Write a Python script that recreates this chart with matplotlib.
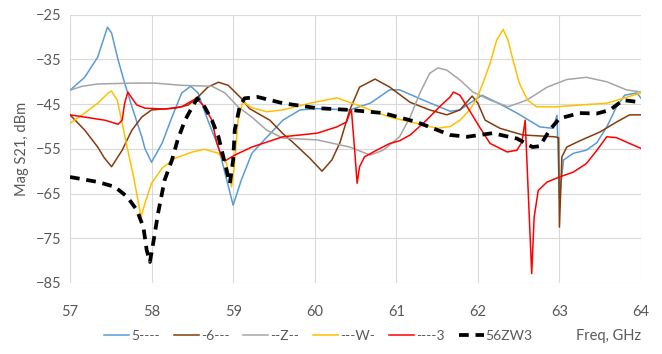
import matplotlib
matplotlib.use("Agg")
import matplotlib.pyplot as plt

plt.rcParams['font.family'] = ['Lato', 'DejaVu Sans']

# series data: frequency (GHz) and |S21| (dBm)
f_5 = [57.0, 57.18, 57.34, 57.42, 57.46, 57.51, 57.59, 57.67, 57.76, 57.88, 57.92, 58.0,
       58.13, 58.25, 58.37, 58.48, 58.57, 58.69, 58.82, 58.9, 59.0, 59.1, 59.23, 59.33,
       59.61, 59.82, 60.03, 60.43, 60.68, 60.92, 61.04, 61.33, 61.66, 61.78, 61.9, 62.05,
       62.23, 62.48, 62.76, 62.92, 62.97, 63.0, 63.05, 63.17, 63.33, 63.46, 63.58, 63.7,
       63.8, 63.95, 64.0]
s_5 = [-41.9, -39.0, -34.5, -30.0, -27.8, -29.1, -35.1, -40.3, -45.6, -52.3, -55.0, -58.0,
       -53.7, -47.9, -42.5, -41.0, -42.5, -48.6, -54.6, -60.4, -67.6, -62.0, -56.0, -54.0,
       -48.6, -46.3, -46.0, -46.3, -44.8, -41.8, -41.8, -44.1, -46.6, -46.3, -44.8, -43.0,
       -44.6, -47.0, -50.1, -50.4, -47.5, -66.0, -57.5, -56.0, -55.3, -53.6, -50.1, -45.6,
       -43.0, -42.5, -43.7]

f_6 = [57.0, 57.18, 57.34, 57.42, 57.51, 57.64, 57.7, 57.76, 57.88, 58.0, 58.29, 58.45,
       58.57, 58.69, 58.82, 58.94, 59.1, 59.2, 59.45, 59.61, 59.73, 59.94, 60.09, 60.21,
       60.31, 60.43, 60.55, 60.74, 60.92, 61.17, 61.41, 61.62, 61.78, 61.93, 62.0, 62.09,
       62.27, 62.55, 62.94, 62.99, 63.0, 63.03, 63.09, 63.25, 63.5, 63.7, 63.86, 64.0]
s_6 = [-47.4, -50.8, -54.6, -57.0, -59.0, -55.3, -53.0, -50.8, -47.9, -46.3, -45.9, -45.2,
       -43.4, -41.2, -40.1, -40.8, -43.7, -46.0, -48.6, -51.6, -53.5, -57.1, -60.0, -57.5,
       -53.6, -46.3, -41.2, -39.4, -41.2, -44.6, -46.3, -47.4, -46.3, -43.2, -44.8, -48.6,
       -50.4, -51.9, -52.3, -52.5, -72.5, -56.8, -54.6, -53.2, -51.2, -49.0, -47.4, -47.4]

f_z = [57.0, 57.15, 57.34, 57.76, 58.04, 58.37, 58.74, 58.9, 59.06, 59.23, 59.41, 59.61,
       60.03, 60.43, 60.68, 60.84, 61.04, 61.17, 61.29, 61.41, 61.51, 61.62, 61.78, 61.94,
       62.15, 62.37, 62.6, 62.85, 63.09, 63.33, 63.58, 63.82, 64.0]
s_z = [-41.9, -41.0, -40.5, -40.3, -40.3, -40.8, -41.0, -42.5, -45.6, -47.9, -50.8, -52.6,
       -53.0, -54.6, -56.4, -55.3, -52.3, -47.9, -42.5, -38.1, -36.9, -37.4, -39.6, -42.3,
       -44.1, -45.6, -44.1, -41.2, -39.5, -39.0, -40.0, -41.8, -42.3]

f_w = [57.0, 57.18, 57.34, 57.47, 57.51, 57.58, 57.64, 57.7, 57.78, 57.84, 57.87, 57.92,
       58.0, 58.13, 58.29, 58.5, 58.65, 58.82, 58.92, 58.98, 59.01, 59.06, 59.12, 59.23,
       59.41, 59.61, 59.94, 60.27, 60.52, 60.92, 61.25, 61.5, 61.66, 61.78, 61.9, 61.99,
       62.06, 62.15, 62.23, 62.31, 62.37, 62.43, 62.51, 62.61, 62.72, 62.97, 63.25, 63.58,
       63.78, 64.0]
s_w = [-49.3, -47.0, -44.8, -42.5, -42.1, -44.1, -49.3, -54.6, -61.3, -67.1, -70.3, -67.1,
       -62.7, -59.3, -57.1, -55.7, -55.1, -56.0, -58.3, -63.5, -59.8, -48.6, -44.5, -45.8,
       -46.7, -46.3, -44.8, -43.6, -45.2, -47.9, -49.3, -50.4, -50.0, -48.6, -46.3, -43.7,
       -40.4, -35.9, -30.7, -28.3, -30.7, -35.1, -40.4, -44.1, -45.6, -45.6, -45.2, -44.8,
       -43.7, -42.5]

f_3 = [57.0, 57.18, 57.43, 57.59, 57.64, 57.67, 57.71, 57.76, 57.82, 57.92, 58.16, 58.37,
       58.51, 58.55, 58.65, 58.74, 58.8, 58.86, 58.9, 59.02, 59.23, 59.61, 60.03, 60.27,
       60.39, 60.43, 60.45, 60.49, 60.52, 60.55, 60.61, 60.76, 60.92, 61.04, 61.17, 61.37,
       61.53, 61.66, 61.7, 61.78, 61.87, 62.02, 62.15, 62.36, 62.48, 62.54, 62.58, 62.66,
       62.69, 62.74, 62.85, 63.0, 63.17, 63.33, 63.46, 63.58, 63.7, 63.86, 64.0]
s_3 = [-47.4, -47.9, -48.6, -49.5, -48.6, -44.8, -42.3, -43.7, -45.2, -45.9, -46.1, -45.6,
       -44.1, -43.7, -45.6, -48.6, -53.7, -56.8, -57.7, -56.4, -54.6, -52.3, -51.5, -50.1,
       -49.0, -47.0, -46.3, -55.3, -62.7, -59.0, -56.8, -55.3, -53.8, -53.2, -51.9, -48.6,
       -45.6, -43.4, -42.3, -43.0, -45.6, -50.1, -53.8, -55.7, -55.3, -53.5, -48.6, -82.9,
       -70.3, -64.3, -62.4, -61.3, -60.2, -58.3, -55.3, -52.3, -52.5, -53.8, -54.9]

f_56 = [57.0, 57.34, 57.55, 57.7, 57.82, 57.9, 57.94, 57.98, 58.02, 58.08, 58.16, 58.25,
        58.32, 58.41, 58.5, 58.56, 58.65, 58.74, 58.82, 58.86, 58.94, 58.96, 59.0, 59.02,
        59.08, 59.14, 59.3, 59.61, 60.03, 60.43, 60.84, 61.25, 61.66, 61.87, 62.18, 62.48,
        62.67, 62.76, 62.88, 63.0, 63.25, 63.46, 63.62, 63.78, 64.0]
s_56 = [-61.3, -62.4, -63.5, -65.7, -68.7, -72.5, -77.6, -80.3, -76.1, -69.4, -62.0, -57.5,
        -53.0, -48.6, -45.6, -43.7, -45.6, -48.6, -52.3, -55.3, -61.3, -62.7, -57.5, -50.8,
        -45.6, -43.7, -43.4, -44.8, -45.9, -46.3, -47.0, -49.0, -51.9, -52.3, -51.5, -52.7,
        -54.6, -54.4, -50.8, -48.2, -47.0, -47.1, -46.3, -44.1, -44.6]

x_ticks = [57, 58, 59, 60, 61, 62, 63, 64]
y_ticks = [-25, -35, -45, -55, -65, -75, -85]

txt = '#595959'
fig = plt.figure(figsize=(6.62, 3.54), dpi=100)
ax = fig.add_axes([0.1057, 0.2006, 0.8626, 0.7579])

ax.plot(f_5, s_5, color='#5B9BD5', lw=1.1, label='5----')
ax.plot(f_6, s_6, color='#843C0C', lw=1.1, label='-6---')
ax.plot(f_z, s_z, color='#A5A5A5', lw=1.1, label='--Z--')
ax.plot(f_w, s_w, color='#FFC000', lw=1.1, label='---W-')
ax.plot(f_3, s_3, color='#FF0000', lw=1.1, label='----3')
ax.plot(f_56, s_56, color='black', lw=2.7, dashes=(2.6, 1.8), label='56ZW3')

ax.set_xlim(57, 64)
ax.set_ylim(-85, -25)
ax.set_xticks(x_ticks)
ax.set_yticks(y_ticks)
ax.grid(True, color='#d9d9d9', lw=0.8)
ax.set_axisbelow(True)
for s in ax.spines.values():
    s.set_visible(False)
ax.tick_params(length=0, labelsize=10.5, colors=txt)
ax.tick_params(axis='x', pad=16)
ax.tick_params(axis='y', pad=6)

ax.set_ylabel('Mag S21, dBm', fontsize=10.5, color=txt)
ax.yaxis.set_label_coords(-0.072, 0.5)

fig.text(0.968, 0.05, 'Freq, GHz', ha='right', va='center', fontsize=10.5, color=txt)

fig.legend(loc='center', bbox_to_anchor=(0.481, 0.05), ncol=6, frameon=False,
           fontsize=10, labelcolor=txt, handlelength=1.8, handletextpad=0.15,
           columnspacing=1.0, borderpad=0)

fig.savefig('out.png', dpi=100)
